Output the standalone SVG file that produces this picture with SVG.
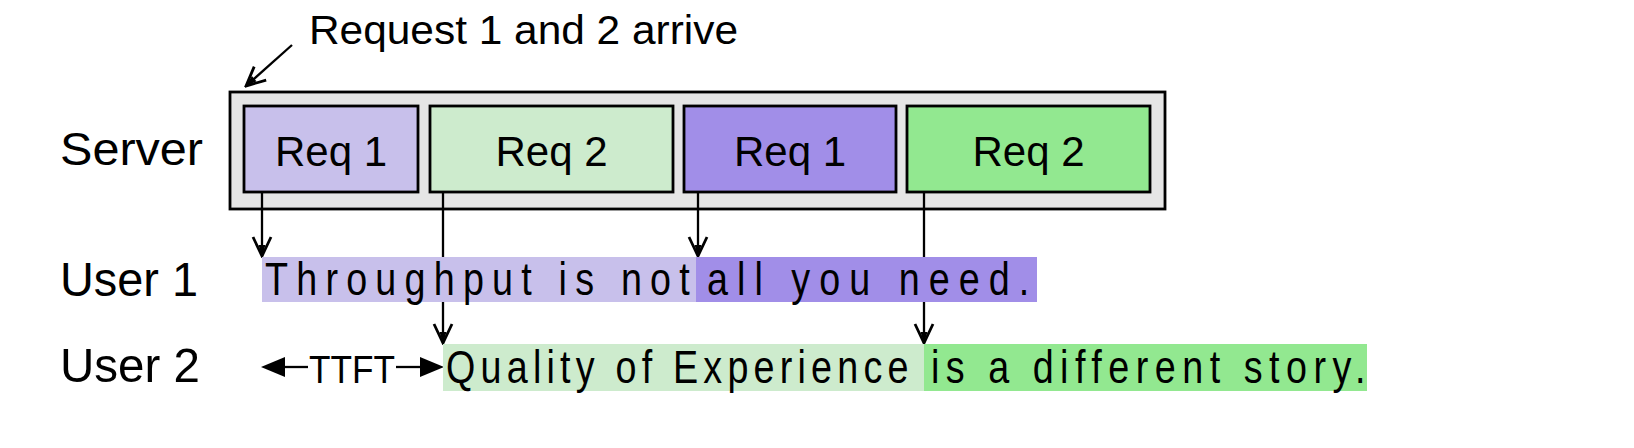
<svg xmlns="http://www.w3.org/2000/svg" width="1634" height="448" viewBox="0 0 1634 448">
<style>
.t{font-family:"Liberation Sans",Arial,Helvetica,sans-serif;fill:#000}
.box{stroke:#000;stroke-width:2.8}
.conn{stroke:#000;stroke-width:2.3;fill:none}
.p1{fill:#c8c0eb}.p2{fill:#a18ee8}.g1{fill:#cdebcd}.g2{fill:#92e890}
</style>
<defs>
<marker id="open" viewBox="-22 -13 24 26" refX="0" refY="0" markerWidth="24" markerHeight="26" markerUnits="userSpaceOnUse" orient="auto">
<path d="M-19,-9 L0,0 L-19,9" fill="none" stroke="#000" stroke-width="2.8" stroke-linejoin="miter"/>
<path d="M-11,-3.5 L0,0 L-11,3.5 Z" fill="#000"/>
</marker>
</defs>
<rect width="1634" height="448" fill="#fff"/>
<g id="title"><text class="t" x="309" y="44" font-size="40" textLength="429" lengthAdjust="spacingAndGlyphs">Request 1 and 2 arrive</text></g>
<g id="server-label"><text class="t" x="60" y="165" font-size="47" textLength="143" lengthAdjust="spacingAndGlyphs">Server</text></g>
<g id="server">
<rect class="box" x="230" y="92" width="935" height="117" fill="#e5e5e5"/>
</g>
<g id="req1a"><rect class="box p1" x="244" y="106" width="174" height="86"/><text class="t" x="331" y="166" font-size="42" text-anchor="middle">Req 1</text></g>
<g id="req2a"><rect class="box g1" x="430" y="106" width="243" height="86"/><text class="t" x="551.5" y="166" font-size="42" text-anchor="middle">Req 2</text></g>
<g id="req1b"><rect class="box p2" x="684" y="106" width="212" height="86"/><text class="t" x="790" y="166" font-size="42" text-anchor="middle">Req 1</text></g>
<g id="req2b"><rect class="box g2" x="907" y="106" width="243" height="86"/><text class="t" x="1028.5" y="166" font-size="42" text-anchor="middle">Req 2</text></g>
<g id="connectors">
<line class="conn" x1="292" y1="45" x2="246" y2="86" marker-end="url(#open)"/>
<line class="conn" x1="262" y1="193" x2="262" y2="256" marker-end="url(#open)"/>
<line class="conn" x1="443" y1="193" x2="443" y2="343" marker-end="url(#open)"/>
<line class="conn" x1="698" y1="193" x2="698" y2="256" marker-end="url(#open)"/>
<line class="conn" x1="924" y1="193" x2="924" y2="343" marker-end="url(#open)"/>
</g>
<g id="user1-label"><text class="t" x="60" y="296" font-size="49" textLength="138" lengthAdjust="spacingAndGlyphs">User 1</text></g>
<g id="user1">
<rect class="p1" x="262" y="257" width="434" height="45"/>
<rect class="p2" x="696" y="257" width="341" height="45"/>
<text class="t" font-size="46" transform="translate(265,295) scale(0.82,1)" textLength="518" lengthAdjust="spacing">Throughput is not</text>
<text class="t" font-size="46" transform="translate(707,295) scale(0.82,1)" textLength="393" lengthAdjust="spacing">all you need.</text>
</g>
<g id="user2-label"><text class="t" x="60" y="382" font-size="49" textLength="140" lengthAdjust="spacingAndGlyphs">User 2</text></g>
<g id="ttft">
<line class="conn" x1="280" y1="367" x2="308" y2="367"/>
<path d="M261,367 L285,357 L285,377 Z" fill="#000"/>
<text class="t" x="309" y="383" font-size="38" textLength="86" lengthAdjust="spacingAndGlyphs">TTFT</text>
<line class="conn" x1="396" y1="367" x2="422" y2="367"/>
<path d="M444,367 L420,357 L420,377 Z" fill="#000"/>
</g>
<g id="user2">
<rect class="g1" x="443" y="344" width="481" height="47"/>
<rect class="g2" x="924" y="344" width="443" height="47"/>
<text class="t" font-size="46" transform="translate(446,383) scale(0.82,1)" textLength="564" lengthAdjust="spacing">Quality of Experience</text>
<text class="t" font-size="46" transform="translate(931,383) scale(0.82,1)" textLength="530" lengthAdjust="spacing">is a different story.</text>
</g>
</svg>
